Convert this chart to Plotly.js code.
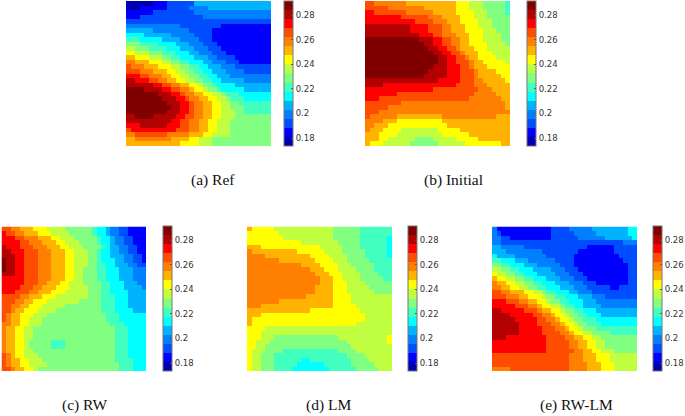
<!DOCTYPE html>
<html>
<head>
<meta charset="utf-8">
<script src="https://cdn.plot.ly/plotly-3.0.1.min.js"></script>
<style>html,body{margin:0;padding:0;background:#fff}</style>
</head>
<body>
<div id="chart" style="width:685px;height:416px"></div>
<script>
// Band colours of the colour bar, lowest first, and the value range they span.
const bandColors = ["#0000b3","#0000ff","#004dff","#0080ff","#00b3ff","#00ffff","#40ffbf","#80ff80","#bfff40","#ffff00","#ffb300","#ff8000","#ff4d00","#ff0000","#b30000","#800000"];
const zMin = 0.1735, zMax = 0.2914;
const tickValues = [0.18,0.2,0.22,0.24,0.26,0.28];
const tickLabels = ["0.18","0.2","0.22","0.24","0.26","0.28"];
const captions = ["(a) Ref","(b) Initial","(c) RW","(d) LM","(e) RW-LM"];

// Each row, top to bottom: tokens of <band hex digit><cell count>.
const refRows = [
"06 13 26 417","03 16 25 34 414","16 29 317","13 214 315","232",
"312 29 111","46 38 25 113","54 46 35 24 113","63 55 44 34 23 113","73 64 54 43 33 23 112",
"82 73 64 53 43 33 23 111","92 83 73 63 53 42 33 23 110","a2 93 83 72 62 53 43 32 24 18","b2 a3 93 82 72 62 53 42 33 23 17","c1 b3 a3 93 82 72 62 52 43 33 28",
"c3 b3 a3 92 82 72 62 52 43 34 26","d3 c2 b3 a2 92 82 72 62 52 43 39","e2 d3 c2 b2 a2 92 82 72 62 52 45 36","e6 d2 c2 b2 a2 92 81 72 61 54 48","f4 e4 d2 c2 b2 a1 92 81 72 61 55 46",
"f7 e3 d2 c1 b2 a2 92 82 71 63 57","f8 e3 d2 c1 b2 a2 92 82 71 63 56","f9 e3 d2 c1 b2 a2 92 82 72 67","f10 e2 d2 c1 b2 a2 92 82 73 66","f9 e3 d2 c1 b2 a2 92 83 72 66",
"e2 f4 e5 d2 c2 b2 a2 92 83 78","e10 d2 c2 b2 a2 92 83 79","d3 e6 d3 c2 b2 a2 92 83 79","c1 d10 c3 b2 a2 92 83 79","b2 c7 b5 a3 92 84 79",
"a2 b8 a4 92 83 713","a12 94 83 713"];

const initialRows = [
"c2 b7 a11 93 83 75 61","c5 b8 a7 93 83 75 61","d2 c7 b6 a5 94 83 74 61","d8 c6 b3 a4 93 83 75","d11 c4 b3 a3 94 83 74",
"e10 d4 c3 b2 a3 93 83 74","e10 d4 c3 b2 a3 94 83 73","e12 d3 c2 b3 a3 93 84 72","f12 e3 d2 c2 b2 a2 93 84 72","f13 e2 d2 c2 b2 a2 94 84 71",
"f14 e2 d2 c2 b1 a3 93 85","f15 e2 d2 c2 b1 a3 93 84","f16 e2 d2 c2 b1 a2 94 83","f16 e2 d2 c3 b1 a2 95 81","f15 e3 d3 c2 b1 a3 95",
"f14 e4 d3 c3 b1 a4 93","f13 e5 d3 c3 b1 a5 92","e16 d5 c3 b2 a5 91","e4 d16 c4 b3 a5","d15 c10 b3 a4",
"d7 c17 b5 a3","d3 c20 b7 a2","c8 b23 a1","c5 b26 a1","c3 b29",
"c1 b6 a10 b12 a3","b4 a3 910 a15","b2 a3 913 a14","b1 a3 94 88 95 a11","a3 94 810 96 a9",
"a3 92 86 74 85 95 a7","a1 93 86 76 86 98 a2"];

const rwRows = [
"c2 b2 a3 93 84 76 61 52 41 32 22 14","d1 c2 b2 a3 93 84 75 61 52 41 32 22 14","d3 c2 b3 a3 92 83 75 61 52 41 32 22 13","d4 c2 b3 a3 92 83 74 61 52 41 32 22 13","e1 d3 c3 b3 a3 92 83 74 61 51 42 32 22 12",
"e2 d3 c3 b3 a3 92 83 72 61 52 42 32 22 12","e3 d2 c3 b3 a3 92 83 72 61 52 43 32 22 11","f1 e2 d2 c3 b3 a3 92 83 72 61 53 42 32 22 11","f1 e2 d2 c3 b3 a3 92 83 72 62 52 43 32 22","f1 e2 d2 c3 b3 a3 92 82 73 62 53 43 33",
"e3 d2 c3 b3 a3 92 82 73 62 53 43 33","d5 c3 b3 a3 92 82 73 62 53 43 33","d5 c3 b2 a3 92 83 74 62 53 43 32","d4 c3 b2 a3 93 84 73 62 53 44 31","d3 c3 b2 a3 93 85 73 62 54 44",
"c4 b2 a3 93 87 73 63 53 44","c3 b2 a2 93 87 75 63 53 44","c2 b2 a2 93 85 78 63 53 44","c2 b1 a2 93 84 710 63 54 43","c1 b1 a2 93 83 713 63 56",
"c1 b1 a2 92 83 714 63 56","b2 a2 92 83 715 63 55","b1 a2 92 82 718 63 54","b1 a2 92 82 718 63 54","b1 a2 92 82 718 63 54",
"b1 a2 92 81 75 63 711 63 54","b1 a2 92 81 75 63 711 63 54","b1 a2 92 82 718 63 54","c1 b1 a1 92 83 717 63 54","c1 b1 a2 92 83 716 64 53",
"c1 b1 a2 92 84 716 63 53","c2 b1 a2 92 81 718 63 53"];

const lmRows = [
"a1 95 813 76 67","97 812 76 67","98 811 76 66 51","912 88 75 66 51","a3 913 85 74 66 51",
"b1 a10 96 84 75 65 51","b4 a10 94 84 74 65 51","b7 a8 94 83 75 65","b12 a4 94 83 75 64","b14 a3 93 84 74 64",
"b15 a3 93 84 74 63","b16 a3 92 84 75 62","b16 a3 93 84 76","b15 a4 93 85 75","b15 a4 93 86 74",
"b13 a6 94 89","b7 a12 94 89","b3 a16 95 88","a14 911 87","a3 923 86",
"a1 925 86","a1 923 88","94 828","93 829","93 83 714 811 91",
"92 83 717 89 91","92 82 719 89","91 83 74 612 74 88","91 82 73 616 74 86","91 82 73 66 52 69 74 85",
"91 82 73 65 56 66 75 84","91 82 73 64 58 66 75 83"];

const rwlmRows = [
"31 112 24 35 48 52","31 21 111 25 35 47 52","32 22 19 26 36 46 51","32 227 33","42 35 214 16 25",
"43 38 28 18 25","51 44 37 26 110 24","62 53 43 36 24 111 23","72 62 53 43 35 23 112 22","82 72 62 53 44 33 23 111 22",
"91 82 72 62 53 44 33 23 110 22","a1 92 82 72 62 53 43 33 23 19 22","b1 a2 92 82 72 62 53 43 33 23 17 22","b2 a2 92 82 72 62 53 43 33 25 12 24","c2 b2 a3 92 82 71 62 53 42 33 210",
"c3 b3 a2 93 81 72 62 53 43 33 27","d3 c3 b2 a2 92 81 72 62 53 43 39","d5 c3 b2 a1 92 82 71 62 52 44 38","e2 d5 c3 b1 a2 92 81 72 62 53 49","e4 d5 c2 b2 a1 92 81 72 62 53 48",
"e5 d5 c2 b2 a1 92 81 72 63 59","e6 d4 c3 b2 a1 92 81 72 63 58","e6 d5 c3 b2 a1 92 81 73 69","e6 d5 c4 b2 a1 92 82 74 66","e3 d9 c4 b2 a2 92 82 78",
"d12 c5 b2 a2 92 82 77","d12 c5 b2 a2 92 82 77","d12 c6 b2 a2 92 83 75","c17 b3 a3 93 86","c17 b3 a3 93 86",
"c17 b4 a3 93 85","b4 c13 b4 a3 93 85"];

// Pixel boxes of the five panels: image [left, right, top, bottom], colour bar left.
const boxes = [
  {l:126,r:271,t:1,b:146,cb:284,cap:213,capY:180},
  {l:365,r:510,t:1,b:146,cb:527,cap:453,capY:180},
  {l:1.5,r:146,t:226.5,b:371,cb:163,cap:85,capY:405},
  {l:247,r:392,t:226.5,b:371,cb:408,cap:328,capY:405},
  {l:492,r:637,t:226.5,b:371,cb:653,cap:576,capY:405}
];
const W = 685, H = 416, N = 32;

function rowsToZ(rows){
  const step = (zMax - zMin) / bandColors.length;
  return rows.map(function(row){
    const out = [];
    row.split(" ").forEach(function(tok){
      const band = parseInt(tok[0],16), n = parseInt(tok.slice(1),10);
      for(let i=0;i<n;i++) out.push(zMin + (band+0.5)*step);
    });
    while(out.length<N) out.push(out[out.length-1]);
    return out.slice(0,N);
  });
}
const stepScale = [];
bandColors.forEach(function(c,i){
  stepScale.push([i/bandColors.length,c]);
  stepScale.push([(i+1)/bandColors.length,c]);
});

const panels = [refRows,initialRows,rwRows,lmRows,rwlmRows];
const data = [];
const layout = {
  width:W,height:H,margin:{l:0,r:0,t:0,b:0,pad:0,autoexpand:false},
  paper_bgcolor:"#fff",plot_bgcolor:"#fff",showlegend:false,
  font:{family:"DejaVu Sans",size:8.5,color:"#333"},
  annotations:[]
};
panels.forEach(function(rows,i){
  const b = boxes[i], s = i===0?"":String(i+1);
  data.push({
    type:"heatmap",z:rowsToZ(rows),xaxis:"x"+s,yaxis:"y"+s,
    zmin:zMin,zmax:zMax,zauto:false,colorscale:stepScale,hoverinfo:"skip",
    colorbar:{
      xref:"paper",yref:"paper",x:b.cb/W,xanchor:"left",xpad:0,ypad:0,
      y:1-b.b/H,yanchor:"bottom",len:(b.b-b.t)/H,lenmode:"fraction",
      thickness:9,thicknessmode:"pixels",
      outlinewidth:1,outlinecolor:"#777",borderwidth:0,
      tickmode:"array",tickvals:tickValues,ticktext:tickLabels,
      ticks:"inside",ticklen:2,tickwidth:1,tickcolor:"#555",
      tickfont:{family:"DejaVu Sans",size:8.5,color:"#333"}
    }
  });
  layout["xaxis"+s] = {domain:[b.l/W,b.r/W],visible:false,fixedrange:true,anchor:"y"+s,range:[-0.5,N-0.5]};
  layout["yaxis"+s] = {domain:[1-b.b/H,1-b.t/H],visible:false,fixedrange:true,anchor:"x"+s,range:[N-0.5,-0.5]};
  layout.annotations.push({
    xref:"paper",yref:"paper",x:b.cap/W,y:1-b.capY/H,xanchor:"center",yanchor:"middle",
    text:captions[i],showarrow:false,font:{family:"Liberation Serif",size:15.5,color:"#111"}
  });
});
Plotly.newPlot("chart",data,layout,{displayModeBar:false,staticPlot:true});
</script>
</body>
</html>
